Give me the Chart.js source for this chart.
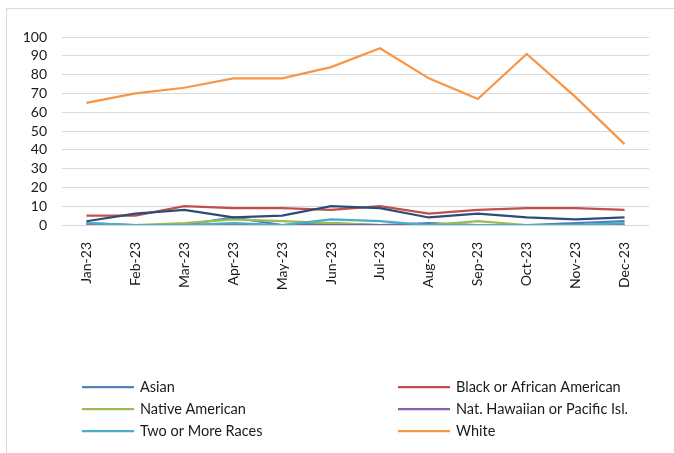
<!DOCTYPE html>
<html>
<head>
<meta charset="utf-8">
<script src="https://cdn.jsdelivr.net/npm/chart.js@4.4.1/dist/chart.umd.min.js"></script>
<style>
  html, body { margin: 0; padding: 0; background: #fff; }
  #wrap { width: 674px; height: 453px; }
</style>
</head>
<body>
<div id="wrap"><canvas id="chart" width="674" height="453"></canvas></div>
<script>
const months = ['Jan-23', 'Feb-23', 'Mar-23', 'Apr-23', 'May-23', 'Jun-23', 'Jul-23', 'Aug-23', 'Sep-23', 'Oct-23', 'Nov-23', 'Dec-23'];
const yTicks = [0, 10, 20, 30, 40, 50, 60, 70, 80, 90, 100];

const asian = [1, 0, 0, 4, 0, 1, 0, 1, 0, 0, 1, 2];
const black = [5, 5, 10, 9, 9, 8, 10, 6, 8, 9, 9, 8];
const nativeAm = [0, 0, 1, 3, 2, 1, 0, 0, 2, 0, 0, 0];
const hawaiian = [0, 0, 0, 0, 0, 0, 0, 0, 0, 0, 0, 0];
const twoOrMore = [1, 0, 0, 1, 0, 3, 2, 0, 0, 0, 0, 1];
const white = [65, 70, 73, 78, 78, 84, 94, 78, 67, 91, 68, 43];
const other = [2, 6, 8, 4, 5, 10, 9, 4, 6, 4, 3, 4];

const FONT = 'Lato, "Liberation Sans", sans-serif';

function series(label, values, color, idx, inLegend) {
  return {
    label: label,
    data: values,
    borderColor: color,
    backgroundColor: color,
    borderWidth: 2.25,
    pointRadius: 0,
    tension: 0,
    order: 20 - idx,
    inLegend: inLegend
  };
}

// legend in two columns, like the sheet
const sideLegend = {
  id: 'sideLegend',
  afterDraw(chart) {
    const c = chart.ctx;
    const cols = [82, 398];
    const rows = [387, 409, 431];
    let n = 0;
    c.save();
    c.font = '14.5px ' + FONT;
    c.textBaseline = 'middle';
    chart.data.datasets.forEach(ds => {
      if (!ds.inLegend) return;
      const x = cols[n % 2];
      const y = rows[Math.floor(n / 2)];
      c.strokeStyle = ds.borderColor;
      c.lineWidth = 2.25;
      c.beginPath();
      c.moveTo(x, y);
      c.lineTo(x + 52, y);
      c.stroke();
      c.fillStyle = '#1a1a1a';
      c.fillText(ds.label, x + 58, y);
      n++;
    });
    c.restore();
  }
};

const frame = {
  id: 'frame',
  beforeDraw(chart) {
    const c = chart.ctx;
    c.save();
    c.strokeStyle = '#d9d9d9';
    c.lineWidth = 1;
    c.strokeRect(6.5, 8.5, 720, 500);
    c.restore();
  }
};

new Chart(document.getElementById('chart'), {
  type: 'line',
  data: {
    labels: months,
    datasets: [
      series('Asian', asian, '#4F81BD', 0, true),
      series('Black or African American', black, '#C0504D', 1, true),
      series('Native American', nativeAm, '#9BBB59', 2, true),
      series('Nat. Hawaiian or Pacific Isl.', hawaiian, '#8064A2', 3, true),
      series('Two or More Races', twoOrMore, '#4BACC6', 4, true),
      series('White', white, '#F79646', 5, true),
      series('Other', other, '#2C4D75', 6, false)
    ]
  },
  options: {
    responsive: false,
    animation: false,
    layout: { padding: { top: 37, right: 25, left: 0, bottom: 0 } },
    plugins: {
      legend: { display: false },
      tooltip: { enabled: false }
    },
    scales: {
      x: {
        offset: true,
        grid: { display: false },
        border: { display: false },
        ticks: {
          color: '#1a1a1a',
          font: { family: FONT, size: 14 },
          minRotation: 90,
          maxRotation: 90,
          autoSkip: false,
          padding: 9
        },
        afterFit(scale) { scale.height = 228; }
      },
      y: {
        min: 0,
        max: 100,
        afterBuildTicks(scale) { scale.ticks = yTicks.map(v => ({ value: v })); },
        grid: { color: '#d9d9d9', lineWidth: 1, drawTicks: false },
        border: { display: false },
        ticks: {
          color: '#1a1a1a',
          font: { family: FONT, size: 14 },
          autoSkip: false,
          padding: 15
        },
        afterFit(scale) { scale.width = 62; }
      }
    }
  },
  plugins: [frame, sideLegend]
});
</script>
</body>
</html>
